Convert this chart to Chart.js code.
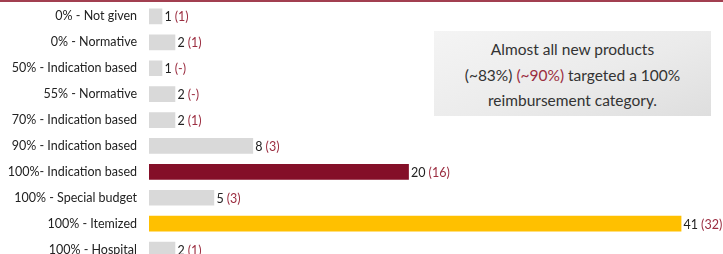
<!DOCTYPE html>
<html lang="en">
<head>
    <meta charset="UTF-8">
    <title>Reimbursement categories of new products</title>
    <style>
        html, body {
            margin: 0;
            padding: 0;
            background: #fff;
            overflow: hidden;
        }
        .topline {
            position: absolute;
            left: 0; top: 0;
            width: 723px; height: 2px;
            background: #a23f50;
        }
        .chart-wrap {
            position: absolute;
            left: 0; top: -8px;
            width: 723px; height: 282px;
        }
        .note {
            position: absolute;
            left: 434px; top: 31px;
            width: 277px; height: 85px;
            background: linear-gradient(160deg, #f4f4f4 0%, #ebebeb 55%, #dedede 100%);
            font-family: Lato, "Noto Sans", sans-serif;
            font-size: 15.5px;
            line-height: 25.5px;
            color: #333;
            text-align: center;
            padding-top: 6px;
            box-sizing: border-box;
        }
        .note .alt { color: #9b2d40; }
    </style>
    <script src="https://cdn.jsdelivr.net/npm/chart.js"></script>
</head>
<body>
    <div class="chart-wrap"><canvas id="chart" width="723" height="282"></canvas></div>
    <div class="topline"></div>
    <div class="note">
        Almost all new products<br>
        (~83%) <span class="alt">(~90%)</span> targeted a 100%<br>
        reimbursement category.
    </div>

    <script>
        const categories = [
            '0% - Not given',
            '0% - Normative',
            '50% - Indication based',
            '55% - Normative',
            '70% - Indication based',
            '90% - Indication based',
            '100%- Indication based',
            '100% - Special budget',
            '100% - Itemized',
            '100% - Hospital'
        ];
        const counts = [1, 2, 1, 2, 2, 8, 20, 5, 41, 2];
        // numbers shown in brackets next to each bar ("-" = none)
        const bracketCounts = ['1', '1', '-', '-', '1', '3', '16', '3', '32', '1'];
        const barColors = ['#d9d9d9', '#d9d9d9', '#d9d9d9', '#d9d9d9', '#d9d9d9',
                           '#d9d9d9', '#840f28', '#d9d9d9', '#ffc000', '#d9d9d9'];

        const FONT = 'Lato, "Noto Sans", sans-serif';

        // writes "20 (16)" after the end of each bar
        const valueLabels = {
            id: 'valueLabels',
            afterDatasetsDraw(chart) {
                const c = chart.ctx;
                const meta = chart.getDatasetMeta(0);
                c.save();
                c.font = '12.5px ' + FONT;
                c.textBaseline = 'middle';
                c.textAlign = 'left';
                meta.data.forEach((bar, i) => {
                    const x = bar.x + 2.5;
                    const y = bar.y + 1;
                    const main = String(counts[i]);
                    c.fillStyle = '#222';
                    c.fillText(main, x, y);
                    const w = c.measureText(main).width + 3;
                    c.fillStyle = '#9b2d40';
                    c.fillText('(' + bracketCounts[i] + ')', x + w, y);
                });
                c.restore();
            }
        };

        new Chart(document.getElementById('chart'), {
            type: 'bar',
            data: {
                labels: categories,
                datasets: [{
                    data: counts,
                    backgroundColor: barColors,
                    barThickness: 15,
                    borderWidth: 0
                }]
            },
            options: {
                indexAxis: 'y',
                responsive: false,
                animation: false,
                layout: { padding: { top: 4, bottom: 4, right: 3, left: 0 } },
                plugins: {
                    legend: { display: false },
                    tooltip: { enabled: false }
                },
                scales: {
                    x: {
                        display: false,
                        min: 0,
                        max: 44
                    },
                    y: {
                        grid: { display: false },
                        border: { display: false },
                        ticks: {
                            color: '#222',
                            font: { family: FONT, size: 12.5 },
                            padding: 4
                        },
                        afterFit(scale) { scale.width = 149; }
                    }
                }
            },
            plugins: [valueLabels]
        });
    </script>
</body>
</html>
